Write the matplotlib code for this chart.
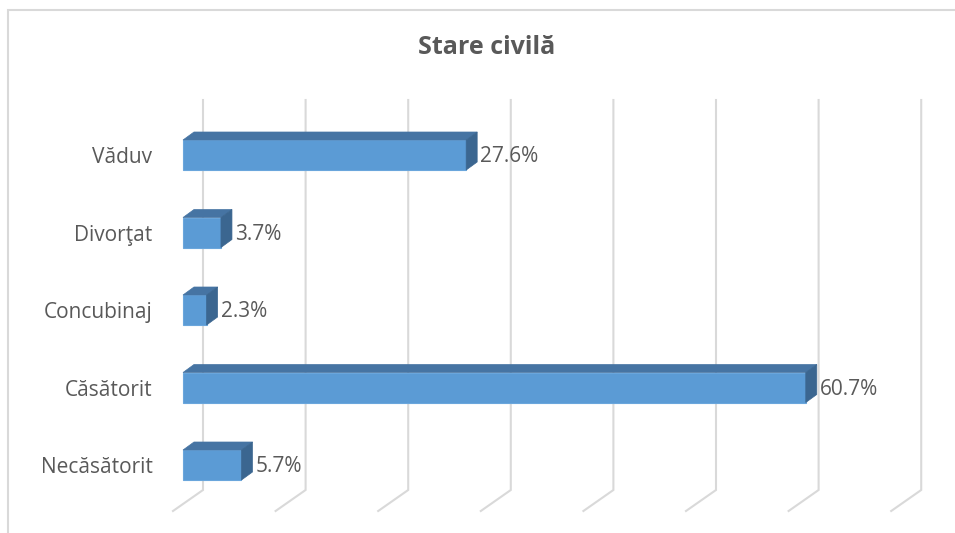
import matplotlib.pyplot as plt
from matplotlib.patches import Polygon, Rectangle

# data, bottom to top as drawn
categories = ["Necăsătorit", "Căsătorit", "Concubinaj", "Divorţat", "Văduv"]
values = [5.7, 60.7, 2.3, 3.7, 27.6]
grid_ticks = [0, 10, 20, 30, 40, 50, 60, 70]
title = "Stare civilă"

W, H = 955, 533
px_x = 10.26   # pixels per percent
px_y = 77.5    # pixels per category

plt.rcParams['font.family'] = ['Open Sans', 'DejaVu Sans']
text_col = '#595959'

fig = plt.figure(figsize=(W / 100, H / 100), dpi=100)
# chart frame: only left and top edges fall inside the picture
fig.patches.append(Rectangle((8 / W, -0.1), 1.5, 1.1 - 10 / H, transform=fig.transFigure,
                             facecolor='white', edgecolor='#d9d9d9', linewidth=1.5, zorder=-10))

ax = fig.add_axes([158 / W, 13 / H, 782 / W, 430 / H])
ax.set_xlim((158 - 183) / px_x, (940 - 183) / px_x)
ax.set_ylim(-55 / px_y, 375 / px_y)
ax.patch.set_alpha(0)
for s in ax.spines.values():
    s.set_visible(False)

# depth offsets (data units)
wall_dx, wall_dy = 30 / px_x, 21 / px_y      # full floor depth
bar_dx, bar_dy = 11 / px_x, 8 / px_y         # bar depth
grid_top = (465 - 100) / px_y
grid_bot = (465 - 490) / px_y

# gridlines on back wall, running down into the floor
for t in grid_ticks:
    xb = t + 2 * wall_dx / 3
    xf = t - wall_dx / 3
    ax.plot([xb, xb, xf], [grid_top, grid_bot, grid_bot - wall_dy],
            color='#d9d9d9', lw=1.5, zorder=1, clip_on=False, solid_joinstyle='miter')

bar_h = 30 / px_y
front_col = '#5b9bd5'
top_col = '#4674a3'
side_col = '#3b6690'

ax.barh(range(len(values)), values, height=bar_h, color=front_col,
        edgecolor='#6aa6dc', linewidth=0.8, zorder=3)
for i, v in enumerate(values):
    hh = bar_h / 2
    top = Polygon([(0, i + hh), (v, i + hh), (v + bar_dx, i + hh + bar_dy), (bar_dx, i + hh + bar_dy)],
                  closed=True, facecolor=top_col, edgecolor=top_col, lw=0.5, zorder=3)
    side = Polygon([(v, i - hh), (v + bar_dx, i - hh + bar_dy), (v + bar_dx, i + hh + bar_dy), (v, i + hh)],
                   closed=True, facecolor=side_col, edgecolor=side_col, lw=0.5, zorder=3)
    ax.add_patch(top)
    ax.add_patch(side)
    ax.text(v + bar_dx + 0.3, i - 0.02, f"{v:.1f}%", ha='left', va='center',
            fontsize=15, color=text_col, zorder=4)

ax.set_xticks([])
ax.set_yticks(range(len(categories)))
ax.set_yticklabels(categories, fontsize=15, color=text_col)
ax.tick_params(axis='y', length=0, pad=4)

fig.text(487 / W, 1 - 47 / H, title, ha='center', va='center',
         fontsize=18, fontweight='bold', color=text_col)

fig.savefig('out.png', dpi=100)
